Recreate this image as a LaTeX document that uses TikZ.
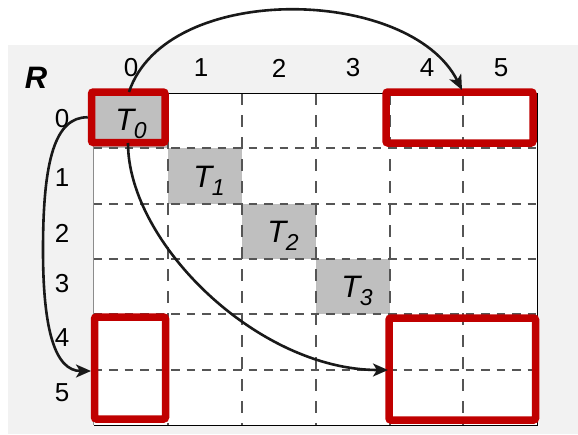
\documentclass[tikz,border=0pt]{standalone}
\usepackage{fontspec}
\setmainfont{Liberation Sans}
\usetikzlibrary{arrows.meta}
\definecolor{bgc}{HTML}{F2F2F2}
\definecolor{cellg}{HTML}{BFBFBF}
\definecolor{myred}{HTML}{C00000}
\definecolor{dashc}{HTML}{555555}
\tikzset{
  redbox/.style={draw=myred, line width=7.5pt, rounded corners=2pt, inner sep=0pt},
  conn/.style={draw=black!90, line width=2.6pt, -{Stealth[length=15pt,width=13pt,inset=4pt]}},
  griddh/.style={draw=dashc, line width=1.2pt, dash pattern=on 8.5pt off 7pt},
  griddv/.style={draw=dashc, line width=1.2pt, dash pattern=on 12pt off 10pt},
  lab/.style={font=\fontsize{26}{26}\selectfont, inner sep=0pt},
  tlab/.style={font=\fontsize{31}{31}\selectfont\itshape, inner sep=0pt},
}
\newcommand{\tsub}[1]{T\kern-0.5pt\raisebox{-7.5pt}{\fontsize{23}{23}\selectfont #1}}
\begin{document}
\begin{tikzpicture}[x=1pt,y=-1pt]
\useasboundingbox (0,0) rectangle (578,434);
\fill[bgc] (8,45) rectangle (578,434);
% grid area
\fill[white] (93.5,93) rectangle (537,425);
% gray diagonal cells
\fill[cellg] (168,148) rectangle (242,204);
\fill[cellg] (242,204) rectangle (316,259);
\fill[cellg] (316,259) rectangle (390,314);
\fill[cellg] (93.5,93) rectangle (168,148);
% dashed inner lines
\foreach \x in {168,242,316,390,463} \draw[griddv] (\x,93) -- (\x,425);
\foreach \y in {148,204,259,314,370} \draw[griddh] (93.5,\y) -- (537,\y);
% outer frame
\draw[black, line width=1pt] (93.5,93) -- (537,93) -- (537,425) -- (93.5,425);
\draw[black!45, line width=1pt] (93.5,93) -- (93.5,425);
% red boxes
\node[redbox, minimum width=73.5pt, minimum height=50.5pt] (b00) at (128.25,117.25) {};
\node[redbox, minimum width=147pt, minimum height=51pt] (b04) at (459.5,117.5) {};
\node[redbox, minimum width=71pt, minimum height=102pt] (b40) at (130,368) {};
\node[redbox, minimum width=146.5pt, minimum height=102pt] (b44) at (462.25,369) {};
% T labels
\node[tlab] (t0) at (131,124) {\tsub{0}};
\node[tlab] (t1) at (209,181) {\tsub{1}};
\node[tlab] (t2) at (283,236) {\tsub{2}};
\node[tlab] (t3) at (357,291) {\tsub{3}};
% column labels
\node[lab] (c0) at (131,68) {0};
\node[lab] (c1) at (201,68) {1};
\node[lab] (c2) at (279,68) {2};
\node[lab] (c3) at (353,68) {3};
\node[lab] (c4) at (427,68) {4};
\node[lab] (c5) at (501,68) {5};
% row labels
\node[lab] (r0) at (62,119) {0};
\node[lab] (r1) at (62,178) {1};
\node[lab] (r2) at (62,233) {2};
\node[lab] (r3) at (62,284) {3};
\node[lab] (r4) at (62,338) {4};
\node[lab] (r5) at (62,393) {5};
\node[font=\fontsize{31}{31}\selectfont\bfseries\itshape, inner sep=0pt] (R) at (36,77.5) {R};
% arrows
\coordinate (e1) at (462,90);
\coordinate (e2) at (91,371);
\coordinate (e3) at (388,370);
\coordinate (s1) at (129,92);
\coordinate (s3) at (128,143);
\draw[conn] (s1) .. controls (166,-19) and (410,-14) .. (e1);
\draw[conn] (b00.west) .. controls (55,117) and (43,160) .. (43,250) .. controls (43,330) and (55,371) .. (e2);
\draw[conn] (s3) .. controls (128,243) and (258,370) .. (e3);
\end{tikzpicture}
\end{document}
